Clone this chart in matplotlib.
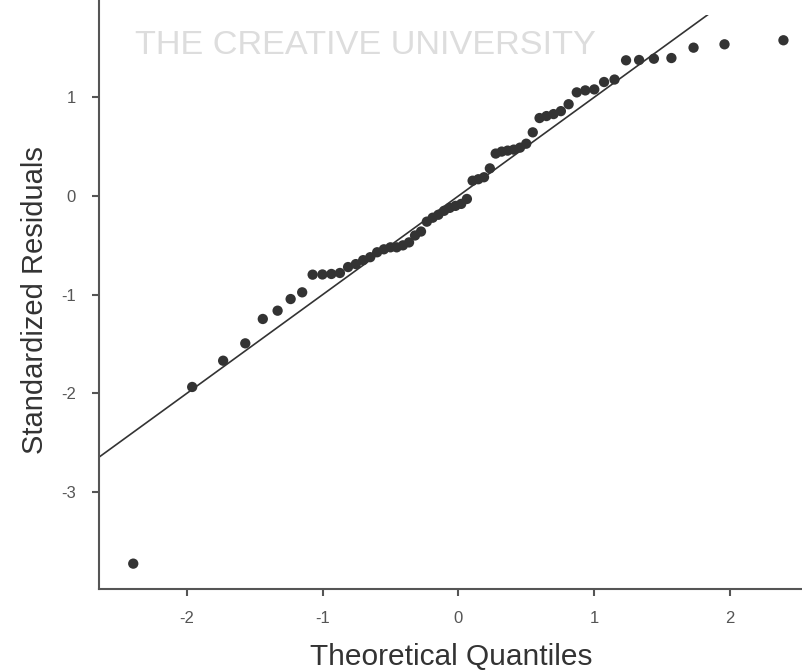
import matplotlib
matplotlib.use("Agg")
import matplotlib.pyplot as plt
from matplotlib.transforms import Bbox, TransformedBbox

# Theoretical normal quantiles (n = 60)
theoretical = [-2.394, -1.960, -1.732, -1.569, -1.440, -1.331, -1.235, -1.150, -1.073, -1.001,
               -0.935, -0.872, -0.812, -0.755, -0.701, -0.649, -0.598, -0.548, -0.500, -0.454,
               -0.408, -0.363, -0.319, -0.275, -0.232, -0.189, -0.147, -0.105, -0.063, -0.021,
               0.021, 0.063, 0.105, 0.147, 0.189, 0.232, 0.275, 0.319, 0.363, 0.408,
               0.454, 0.500, 0.548, 0.598, 0.649, 0.701, 0.755, 0.812, 0.872, 0.935,
               1.001, 1.073, 1.150, 1.235, 1.331, 1.440, 1.569, 1.732, 1.960, 2.394]

residuals = [-3.725, -1.935, -1.669, -1.493, -1.246, -1.162, -1.044, -0.976, -0.797, -0.795,
             -0.790, -0.780, -0.720, -0.690, -0.650, -0.620, -0.570, -0.540, -0.520, -0.520,
             -0.500, -0.470, -0.400, -0.360, -0.260, -0.220, -0.190, -0.150, -0.120, -0.100,
             -0.080, -0.030, 0.155, 0.170, 0.190, 0.280, 0.430, 0.450, 0.460, 0.470,
             0.490, 0.530, 0.645, 0.790, 0.810, 0.830, 0.860, 0.930, 1.050, 1.070,
             1.080, 1.155, 1.180, 1.375, 1.378, 1.391, 1.398, 1.503, 1.537, 1.578]

x_ticks = [-2, -1, 0, 1, 2]
y_ticks = [-3, -2, -1, 0, 1]
x_label = "Theoretical Quantiles"
y_label = "Standardized Residuals"
watermark = "THE CREATIVE UNIVERSITY"

plt.rcParams['font.family'] = ['Liberation Sans', 'DejaVu Sans']
plt.rcParams['axes.unicode_minus'] = False

fig = plt.figure(figsize=(8.03, 6.71), dpi=100)
ax = fig.add_axes([99.3 / 803, (671 - 589) / 671, 1 - 99.3 / 803, 589 / 671])

ax.set_xlim(-2.644, 2.538)
ax.set_ylim(-3.982, 1.986)

ref_line = ax.axline((0, 0), slope=1, color='#333333', lw=1.2, zorder=2)
ref_line.set_clip_box(TransformedBbox(Bbox([[0, 0], [1, (589 - 14.7) / 589]]), ax.transAxes))
ax.scatter(theoretical, residuals, s=55, color='#333333', edgecolors='none', zorder=3, clip_on=False)

ax.set_xticks(x_ticks)
ax.set_yticks(y_ticks)
for s in ['top', 'right']:
    ax.spines[s].set_visible(False)
for s in ['left', 'bottom']:
    ax.spines[s].set_color('#555555')
    ax.spines[s].set_linewidth(1.5)
ax.tick_params(axis='both', direction='out', length=5, width=1.5, color='#555555',
               labelcolor='#555555', labelsize=12)
ax.tick_params(axis='x', pad=11)
ax.tick_params(axis='y', pad=12)

ax.set_xlabel(x_label, fontsize=21.5, color='#333333', va='center')
ax.xaxis.set_label_coords(0.5, (589 - 657) / 589)
ax.set_ylabel(y_label, fontsize=21, color='#333333', va='center')
ax.yaxis.set_label_coords((35 - 99.3) / 703.7, 0.49)

ax.text(135 / 803, 1 - 54 / 671, watermark, transform=fig.transFigure, fontsize=24.7,
        color='#dddddd', ha='left', va='baseline', zorder=1)

fig.savefig("out.png", dpi=100)
